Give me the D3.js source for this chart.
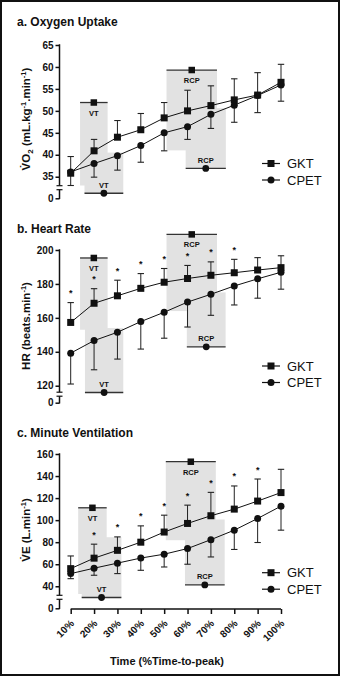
<!DOCTYPE html>
<html>
<head>
<meta charset="utf-8">
<script src="https://cdn.jsdelivr.net/npm/d3@7"></script>
<style>
  html, body { margin: 0; padding: 0; background: #fff; }
  svg { display: block; }
  text { font-family: Arial, "Liberation Sans", sans-serif; fill: #111; }
</style>
</head>
<body>
<svg id="chart" width="340" height="676"></svg>
<script>
// ---------------- DATA ----------------
const categories = ["10%", "20%", "30%", "40%", "50%", "60%", "70%", "80%", "90%", "100%"];
const timePct = [10, 20, 30, 40, 50, 60, 70, 80, 90, 100];
const seriesNames = ["GKT", "CPET"];

// a. Oxygen uptake (mL.kg-1.min-1)
const vo2GKT      = [35.8, 40.9, 44.0, 45.7, 48.4, 50.0, 51.2, 52.5, 53.6, 56.5];
const vo2GKTsd    = [3.8, 2.6, 3.8, 3.7, 3.5, 4.7, 4.5, 4.8, 5.1, 4.1];
const vo2CPET     = [36.1, 38.0, 39.8, 42.1, 45.0, 46.4, 49.2, 51.3, 53.5, 55.9];
const vo2CPETsd   = [3.1, 3.1, 3.3, 3.8, 4.1, 2.9, 3.2, 3.9, 3.9, 3.7];
const vo2Sig      = [0, 0, 0, 0, 0, 0, 0, 0, 0, 0];
const vo2Ticks    = [0, 35, 40, 45, 50, 55, 60, 65];

// b. Heart rate (beats.min-1)
const hrGKT       = [157.3, 168.6, 173.0, 177.4, 181.0, 183.2, 185.1, 186.6, 188.2, 189.6];
const hrGKTsd     = [11.7, 8.6, 9.2, 8.7, 8.1, 7.7, 7.9, 7.9, 7.3, 7.0];
const hrCPET      = [139.2, 146.6, 151.5, 157.8, 163.3, 169.3, 173.9, 178.8, 183.0, 186.9];
const hrCPETsd    = [18.2, 17.2, 15.8, 16.2, 15.3, 14.7, 12.4, 11.2, 11.4, 10.0];
const hrSig       = [1, 1, 1, 1, 1, 1, 1, 1, 0, 0];
const hrTicks     = [0, 120, 140, 160, 180, 200];

// c. Minute ventilation (L.min-1)
const veGKT       = [56.0, 65.5, 72.6, 80.0, 89.2, 97.0, 104.0, 110.0, 117.3, 125.0];
const veGKTsd     = [11.5, 12.7, 12.2, 14.8, 15.3, 16.6, 21.2, 21.0, 20.0, 21.1];
const veCPET      = [51.5, 56.4, 61.0, 65.6, 69.1, 74.2, 82.3, 90.9, 101.5, 112.7];
const veCPETsd    = [4.6, 6.4, 9.5, 11.1, 11.6, 14.2, 15.7, 17.5, 21.8, 21.8];
const veSig       = [0, 1, 1, 1, 1, 1, 1, 1, 1, 0];
const veTicks     = [0, 40, 60, 80, 100, 120, 140, 160];

// Thresholds: time (% time-to-peak) mean ± SD, level of the marker, far edge of shaded band
const vo2Thresholds = [
  { label: "VT",  group: "GKT",  mean: 19.9, sd: 5.9,  level: 51.9, band: 33.0 },
  { label: "RCP", group: "GKT",  mean: 61.8, sd: 10.8, level: 59.3, band: 41.0 },
  { label: "VT",  group: "CPET", mean: 24.2, sd: 8.3,  level: 15.5, band: 40.5 },
  { label: "RCP", group: "CPET", mean: 67.8, sd: 8.6,  level: 36.9, band: 50.6 }
];
const hrThresholds = [
  { label: "VT",  group: "GKT",  mean: 19.9, sd: 5.9,  level: 195.3, band: 153.0 },
  { label: "RCP", group: "GKT",  mean: 61.8, sd: 10.8, level: 209.2, band: 164.0 },
  { label: "VT",  group: "CPET", mean: 24.3, sd: 8.2,  level: 116.0, band: 154.0 },
  { label: "RCP", group: "CPET", mean: 68.0, sd: 8.3,  level: 142.9, band: 175.0 }
];
const veThresholds = [
  { label: "VT",  group: "GKT",  mean: 19.3, sd: 6.1,  level: 111.2, band: 33.0 },
  { label: "RCP", group: "GKT",  mean: 61.4, sd: 10.7, level: 153.0, band: 81.8 },
  { label: "VT",  group: "CPET", mean: 23.2, sd: 8.5,  level: 29.5,  band: 84.5 },
  { label: "RCP", group: "CPET", mean: 67.4, sd: 8.5,  level: 41.2,  band: 100.6 }
];

// ---------------- DRAWING ----------------
const svg = d3.select("#chart");
const FONT = 'Arial, "Liberation Sans", sans-serif';
const BOX = "#e2e2e2";
const INK = "#111";

// frame
svg.append("rect").attr("x", 1).attr("y", 1).attr("width", 338).attr("height", 674)
  .attr("fill", "none").attr("stroke", "#111").attr("stroke-width", 2);

const x = d3.scaleLinear().domain([10, 100]).range([70.7, 281]);
const AXIS_X = 59.5;

const panels = [
  {
    title: "a. Oxygen Uptake", titleY: 25.5,
    y: d3.scaleLinear().domain([0, 32.5, 65]).range([198.3, 187.7, 45]), breakAt: 32.5,
    ticks: vo2Ticks, gkt: vo2GKT, gktSd: vo2GKTsd, cpet: vo2CPET, cpetSd: vo2CPETsd, sig: vo2Sig,
    thr: vo2Thresholds, legendY: 163.5,
    ylabel: [["V\u0307O", 0], ["2", 3, 8], [" (mL.kg", -3], ["-1", -4, 7.5], [".min", 4], ["-1", -4, 7.5], [")", 4]],
    ylabelX: 29.5, ylabelY: 119
  },
  {
    title: "b. Heart Rate", titleY: 232.5,
    y: d3.scaleLinear().domain([0, 115, 200]).range([402.7, 394.2, 250]), breakAt: 115,
    ticks: hrTicks, gkt: hrGKT, gktSd: hrGKTsd, cpet: hrCPET, cpetSd: hrCPETsd, sig: hrSig,
    thr: hrThresholds, legendY: 366,
    ylabel: [["HR (beats.min", 0], ["-1", -4, 7.5], [")", 4]],
    ylabelX: 29.5, ylabelY: 326
  },
  {
    title: "c. Minute Ventilation", titleY: 436.5,
    y: d3.scaleLinear().domain([0, 30, 160]).range([608.3, 597.3, 454]), breakAt: 30,
    ticks: veTicks, gkt: veGKT, gktSd: veGKTsd, cpet: veCPET, cpetSd: veCPETsd, sig: veSig,
    thr: veThresholds, legendY: 572.7,
    ylabel: [["V\u0307E (L.min", 0], ["-1", -4, 7.5], [")", 4]],
    ylabelX: 29.5, ylabelY: 530
  }
];

function square(g, cx, cy, s) {
  g.append("rect").attr("x", cx - s / 2).attr("y", cy - s / 2).attr("width", s).attr("height", s).attr("fill", INK);
}
function circle(g, cx, cy, r) {
  g.append("circle").attr("cx", cx).attr("cy", cy).attr("r", r).attr("fill", INK);
}

panels.forEach(p => {
  const g = svg.append("g");
  const y = p.y;

  // title
  g.append("text").attr("x", 17).attr("y", p.titleY).attr("font-size", 12).attr("font-weight", "bold").text(p.title);

  // threshold bands
  p.thr.forEach(t => {
    const x0 = x(t.mean - t.sd), x1 = x(t.mean + t.sd);
    const ya = y(t.level), yb = y(t.band);
    g.append("rect").attr("x", x0).attr("width", x1 - x0)
      .attr("y", Math.min(ya, yb)).attr("height", Math.abs(yb - ya)).attr("fill", BOX);
  });
  p.thr.forEach(t => {
    const x0 = x(t.mean - t.sd), x1 = x(t.mean + t.sd), ya = y(t.level);
    g.append("line").attr("x1", x0).attr("x2", x1).attr("y1", ya).attr("y2", ya)
      .attr("stroke", "#333").attr("stroke-width", 1.3);
    if (t.group === "GKT") square(g, x(t.mean), ya, 6.5); else circle(g, x(t.mean), ya, 3.4);
    const ly = t.group === "GKT" ? ya + 13 : ya - 5.5;
    g.append("text").attr("x", x(t.mean)).attr("y", ly).attr("text-anchor", "middle")
      .attr("font-size", 7.5).attr("font-weight", "bold").text(t.label);
  });

  // y axis
  const ax = g.append("g").attr("transform", `translate(${AXIS_X},0)`)
    .call(d3.axisLeft(y).tickValues(p.ticks).tickSize(4).tickPadding(2).tickFormat(d3.format("d")));
  ax.select(".domain").remove();
  ax.selectAll(".tick line").attr("stroke", INK).attr("stroke-width", 1.5);
  ax.selectAll(".tick text").attr("font-size", 10).attr("font-weight", "bold").attr("font-family", FONT).attr("fill", INK);
  const yb = y(p.breakAt);
  const top = y(d3.max(p.ticks));
  g.append("line").attr("x1", AXIS_X).attr("x2", AXIS_X).attr("y1", top - 0.75).attr("y2", yb - 2)
    .attr("stroke", INK).attr("stroke-width", 1.5);
  g.append("line").attr("x1", AXIS_X).attr("x2", AXIS_X).attr("y1", yb + 2).attr("y2", y(0) + 0.75)
    .attr("stroke", INK).attr("stroke-width", 1.5);
  [yb - 2, yb + 2].forEach(v => g.append("line").attr("x1", AXIS_X - 3).attr("x2", AXIS_X + 3)
    .attr("y1", v).attr("y2", v).attr("stroke", INK).attr("stroke-width", 1.2));

  // y label
  const yl = g.append("text").attr("transform", `translate(${p.ylabelX},${p.ylabelY}) rotate(-90)`)
    .attr("text-anchor", "middle").attr("font-size", 11.5).attr("font-weight", "bold");
  p.ylabel.forEach(([s, dy, fs]) => {
    const ts = yl.append("tspan").attr("dy", dy).text(s);
    if (fs) ts.attr("font-size", fs);
  });

  // lines
  const line = d3.line().x((d, i) => x(timePct[i])).y(d => y(d));
  g.append("path").datum(p.cpet).attr("d", line).attr("fill", "none").attr("stroke", INK).attr("stroke-width", 1);
  g.append("path").datum(p.gkt).attr("d", line).attr("fill", "none").attr("stroke", INK).attr("stroke-width", 1);

  // error bars: GKT upward, CPET downward
  const bar = (cx, v0, v1) => {
    g.append("line").attr("x1", cx).attr("x2", cx).attr("y1", y(v0)).attr("y2", y(v1)).attr("stroke", "#222").attr("stroke-width", 1);
    g.append("line").attr("x1", cx - 3.2).attr("x2", cx + 3.2).attr("y1", y(v1)).attr("y2", y(v1)).attr("stroke", "#222").attr("stroke-width", 1.1);
  };
  timePct.forEach((t, i) => {
    bar(x(t), p.gkt[i], p.gkt[i] + p.gktSd[i]);
    bar(x(t), p.cpet[i], p.cpet[i] - p.cpetSd[i]);
  });
  timePct.forEach((t, i) => {
    circle(g, x(t), y(p.cpet[i]), 3.5);
    square(g, x(t), y(p.gkt[i]), 7);
    if (p.sig[i]) {
      g.append("text").attr("x", x(t)).attr("y", y(p.gkt[i] + p.gktSd[i]) - 6.5)
        .attr("text-anchor", "middle").attr("font-size", 9).attr("font-weight", "bold").text("*");
    }
  });

  // legend
  seriesNames.forEach((name, k) => {
    const ly = p.legendY + k * 16.5;
    g.append("line").attr("x1", 262).attr("x2", 280).attr("y1", ly).attr("y2", ly).attr("stroke", INK).attr("stroke-width", 1.2);
    if (k === 0) square(g, 271, ly, 7); else circle(g, 271, ly, 3.5);
    g.append("text").attr("x", 287).attr("y", ly + 4.6).attr("font-size", 13).text(name);
  });
});

// x axis (bottom panel)
const yc = panels[2].y;
const xAxisY = yc(0) + 0.7;
const xa = svg.append("g").attr("transform", `translate(0,${xAxisY})`)
  .call(d3.axisBottom(x).tickValues(timePct).tickSize(5).tickSizeOuter(0).tickFormat((d, i) => categories[i]));
xa.select(".domain").attr("stroke", INK).attr("stroke-width", 1.5).attr("d", `M${x(10)},0H${x(100)}`);
xa.selectAll(".tick line").attr("stroke", INK).attr("stroke-width", 1.5);
xa.selectAll(".tick text")
  .attr("font-size", 10).attr("font-weight", "bold").attr("font-family", FONT).attr("fill", INK)
  .attr("text-anchor", "end").attr("dy", 0).attr("y", 0)
  .attr("transform", "translate(3.5,15) rotate(-45)");

svg.append("text").attr("x", 167).attr("y", 665).attr("text-anchor", "middle")
  .attr("font-size", 11).attr("font-weight", "bold").text("Time (%Time-to-peak)");
</script>
</body>
</html>
